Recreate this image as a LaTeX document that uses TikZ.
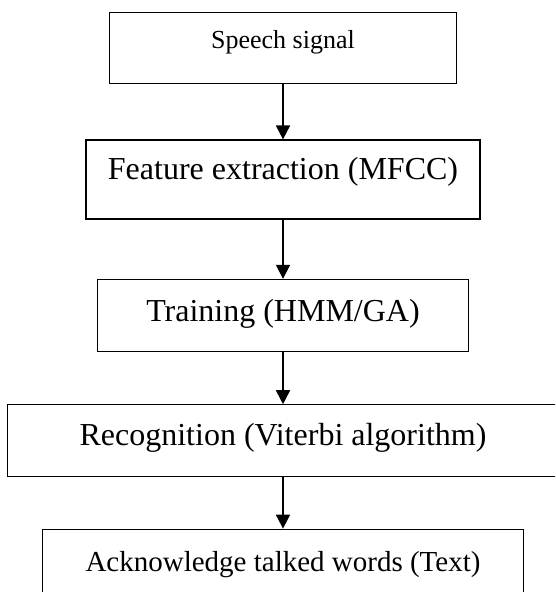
\documentclass[tikz,border=0pt]{standalone}
\usepackage{fontspec}
\setmainfont{Liberation Serif}
\usetikzlibrary{positioning, arrows.meta}

\begin{document}
\begin{tikzpicture}[x=1pt,y=1pt,node distance=52pt,
  stage/.style={draw, line width=1.4pt, inner sep=0pt, font=\fontsize{32}{38}\selectfont},
  flow/.style={-{Triangle[width=14pt,length=14pt]}, line width=1.8pt}]
  % page at the reference size, the wide box runs off the right edge
  \useasboundingbox (0,0) rectangle (555,-592);
  \clip (0,0) rectangle (555,-592);

  \node[stage, anchor=north, minimum width=347pt, text height=36pt, text depth=35pt,
        font=\fontsize{26}{31}\selectfont] (speech) at (283,-12) {Speech signal};
  \node[stage, minimum width=394pt, text height=39pt, text depth=40pt]
        (mfcc) [below=55pt of speech] {Feature extraction (MFCC)};
  \node[stage, minimum width=371pt, text height=42pt, text depth=30pt]
        (train) [below=59pt of mfcc] {Training (HMM/GA)};
  \node[stage, draw=none, minimum width=550pt, text height=41pt, text depth=30pt]
        (recog) [below=of train] {Recognition (Viterbi algorithm)};
  \node[stage, minimum width=481pt, text height=42pt, text depth=30pt,
        font=\fontsize{29}{35}\selectfont] (words) [below=of recog] {Acknowledge talked words (Text)};

  % this one is wider than the page
  \draw[line width=1.4pt] (recog.south west) rectangle ([xshift=40pt]recog.north east);

  \path[flow]
    (speech) edge (mfcc)
    (mfcc)   edge (train)
    (train)  edge (recog)
    (recog)  edge (words);
\end{tikzpicture}
\end{document}
